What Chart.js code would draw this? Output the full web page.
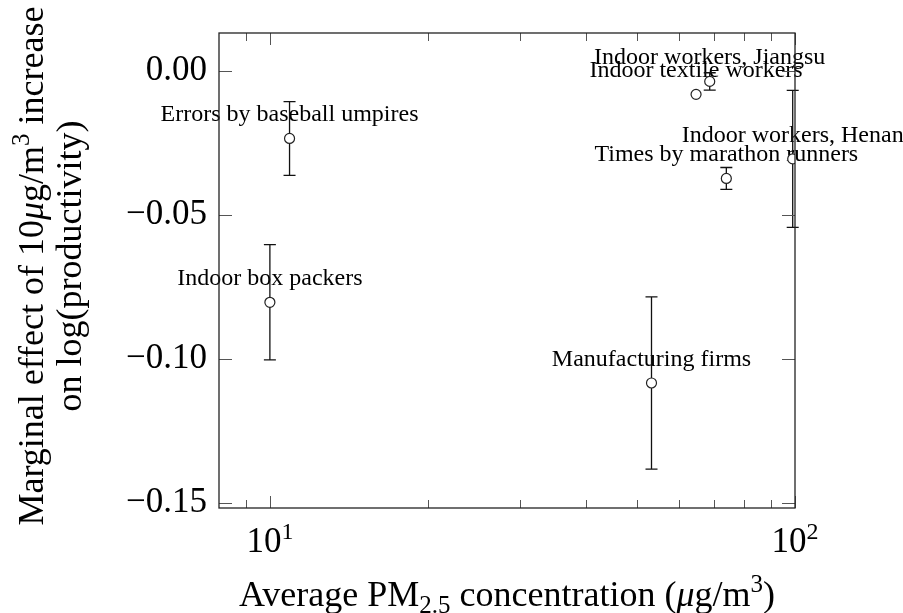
<!DOCTYPE html>
<html>
<head>
<meta charset="utf-8">
<script src="https://cdn.jsdelivr.net/npm/chart.js@4.4.1/dist/chart.umd.min.js"></script>
<style>
  html, body { margin: 0; padding: 0; background: #fff; }
  canvas { display: block; }
</style>
</head>
<body>
<canvas id="myChart" width="903" height="613"></canvas>
<script>
// studies
const studies = [
    "Errors by baseball umpires",
    "Indoor box packers",
    "Manufacturing firms",
    "Indoor textile workers",
    "Indoor workers, Jiangsu",
    "Times by marathon runners",
    "Indoor workers, Henan"
];
const pm25 = [10.9, 10.0, 53.3, 64.8, 68.8, 74.0, 99];
const effect = [-0.0234, -0.0803, -0.1083, -0.0081, -0.0036, -0.0373, -0.0305];
const errHalf = [0.0128, 0.0200, 0.0299, 0, 0.0030, 0.0038, 0.0238];

const yTicks = [0, -0.05, -0.10, -0.15];
const xMajor = [10, 100];
const xMinor = [9, 20, 30, 40, 50, 60, 70, 80, 90];
const xMajorExp = ["1", "2"];

const SERIF = "'Liberation Serif', 'Times New Roman', serif";

// draws a run of text pieces (for sub/superscripts), centred on x
function richText(ctx, parts, x, y) {
    var total = 0;
    for (let p of parts) {
        ctx.font = (p.italic ? "italic " : "") + p.size + "px " + SERIF;
        p.w = ctx.measureText(p.t).width;
        total += p.w;
    }
    var cx = x - total / 2;
    ctx.textAlign = "left";
    ctx.textBaseline = "alphabetic";
    for (let p of parts) {
        ctx.font = (p.italic ? "italic " : "") + p.size + "px " + SERIF;
        ctx.fillText(p.t, cx, y + (p.dy || 0));
        cx += p.w;
    }
}

const errorBars = {
    id: 'errorBars',
    beforeDatasetsDraw(chart) {
        const ctx = chart.ctx;
        const xs = chart.scales.x, ys = chart.scales.y;
        ctx.save();
        // labels above the points
        ctx.fillStyle = "#000";
        ctx.font = "24px " + SERIF;
        ctx.textAlign = "center";
        ctx.textBaseline = "alphabetic";
        for (let i = 0; i < studies.length; i++) {
            let px = xs.getPixelForValue(pm25[i]);
            let py = ys.getPixelForValue(effect[i]);
            ctx.fillText(studies[i], px, py - 17);
        }
        // whiskers
        ctx.strokeStyle = "#111";
        ctx.lineWidth = 1.3;
        for (let i = 0; i < studies.length; i++) {
            if (!errHalf[i]) continue;
            let px = xs.getPixelForValue(pm25[i]);
            let top = ys.getPixelForValue(effect[i] + errHalf[i]);
            let bot = ys.getPixelForValue(effect[i] - errHalf[i]);
            ctx.beginPath();
            ctx.moveTo(px, top); ctx.lineTo(px, bot);
            ctx.moveTo(px - 6, top); ctx.lineTo(px + 6, top);
            ctx.moveTo(px - 6, bot); ctx.lineTo(px + 6, bot);
            ctx.stroke();
        }
        ctx.restore();
    },
    afterDraw(chart) {
        const ctx = chart.ctx;
        const a = chart.chartArea;
        const xs = chart.scales.x, ys = chart.scales.y;
        ctx.save();
        // ticks inside the box, on all four sides
        ctx.strokeStyle = "#555";
        ctx.lineWidth = 1;
        ctx.beginPath();
        for (let v of xMajor) {
            let px = Math.round(xs.getPixelForValue(v)) + 0.5;
            ctx.moveTo(px, a.bottom); ctx.lineTo(px, a.bottom - 12);
            ctx.moveTo(px, a.top); ctx.lineTo(px, a.top + 12);
        }
        for (let v of xMinor) {
            let px = Math.round(xs.getPixelForValue(v)) + 0.5;
            ctx.moveTo(px, a.bottom); ctx.lineTo(px, a.bottom - 8);
            ctx.moveTo(px, a.top); ctx.lineTo(px, a.top + 8);
        }
        for (let v of yTicks) {
            let py = Math.round(ys.getPixelForValue(v)) + 0.5;
            ctx.moveTo(a.left, py); ctx.lineTo(a.left + 13, py);
            ctx.moveTo(a.right, py); ctx.lineTo(a.right - 13, py);
        }
        ctx.stroke();
        // frame
        ctx.strokeStyle = "#222";
        ctx.lineWidth = 1.3;
        ctx.strokeRect(a.left, a.top, a.right - a.left, a.bottom - a.top);

        // x tick labels 10^1, 10^2
        ctx.fillStyle = "#000";
        for (let i = 0; i < xMajor.length; i++) {
            let px = xs.getPixelForValue(xMajor[i]);
            richText(ctx, [
                {t: "10", size: 35},
                {t: xMajorExp[i], size: 24, dy: -13}
            ], px, 552);
        }

        // x title
        let cx = (a.left + a.right) / 2;
        richText(ctx, [
            {t: "Average PM", size: 36},
            {t: "2.5", size: 25, dy: 7},
            {t: " concentration (", size: 36},
            {t: "\u03BC", size: 36, italic: true},
            {t: "g/m", size: 36},
            {t: "3", size: 25, dy: -14},
            {t: ")", size: 36}
        ], cx, 606);

        // y title, two lines, rotated
        ctx.translate(0, 266);
        ctx.rotate(-Math.PI / 2);
        richText(ctx, [
            {t: "Marginal effect of 10", size: 36},
            {t: "\u03BC", size: 36, italic: true},
            {t: "g/m", size: 36},
            {t: "3", size: 25, dy: -14},
            {t: " increase", size: 36}
        ], 0, 43);
        richText(ctx, [{t: "on log(productivity)", size: 36}], 0, 81);
        ctx.restore();
    }
};

const ctx = document.getElementById('myChart');

new Chart(ctx, {
    type: 'scatter',
    data: {
        datasets: [{
            data: pm25.map((x, i) => ({x: x, y: effect[i]})),
            pointRadius: 5,
            pointHoverRadius: 5,
            pointBackgroundColor: '#fff',
            pointBorderColor: '#222',
            pointBorderWidth: 1.2
        }]
    },
    options: {
        responsive: false,
        animation: false,
        devicePixelRatio: 1,
        layout: {
            padding: { top: 33, right: 108, left: 0, bottom: 0 }
        },
        plugins: {
            legend: { display: false },
            tooltip: { enabled: false }
        },
        scales: {
            x: {
                type: 'logarithmic',
                min: 8,
                max: 100,
                grid: { display: false, drawTicks: false },
                border: { display: false },
                ticks: { display: false },
                afterFit: s => { s.height = 105; }
            },
            y: {
                min: -0.1517,
                max: 0.0132,
                grid: { display: false, drawTicks: false },
                border: { display: false },
                afterBuildTicks: s => { s.ticks = yTicks.map(v => ({value: v})); },
                ticks: {
                    color: '#000',
                    padding: 12,
                    font: { family: SERIF, size: 35 },
                    callback: v => (v < 0 ? '\u2212' : '') + Math.abs(v).toFixed(2)
                },
                afterFit: s => { s.width = 219; }
            }
        }
    },
    plugins: [errorBars]
});
</script>
</body>
</html>
